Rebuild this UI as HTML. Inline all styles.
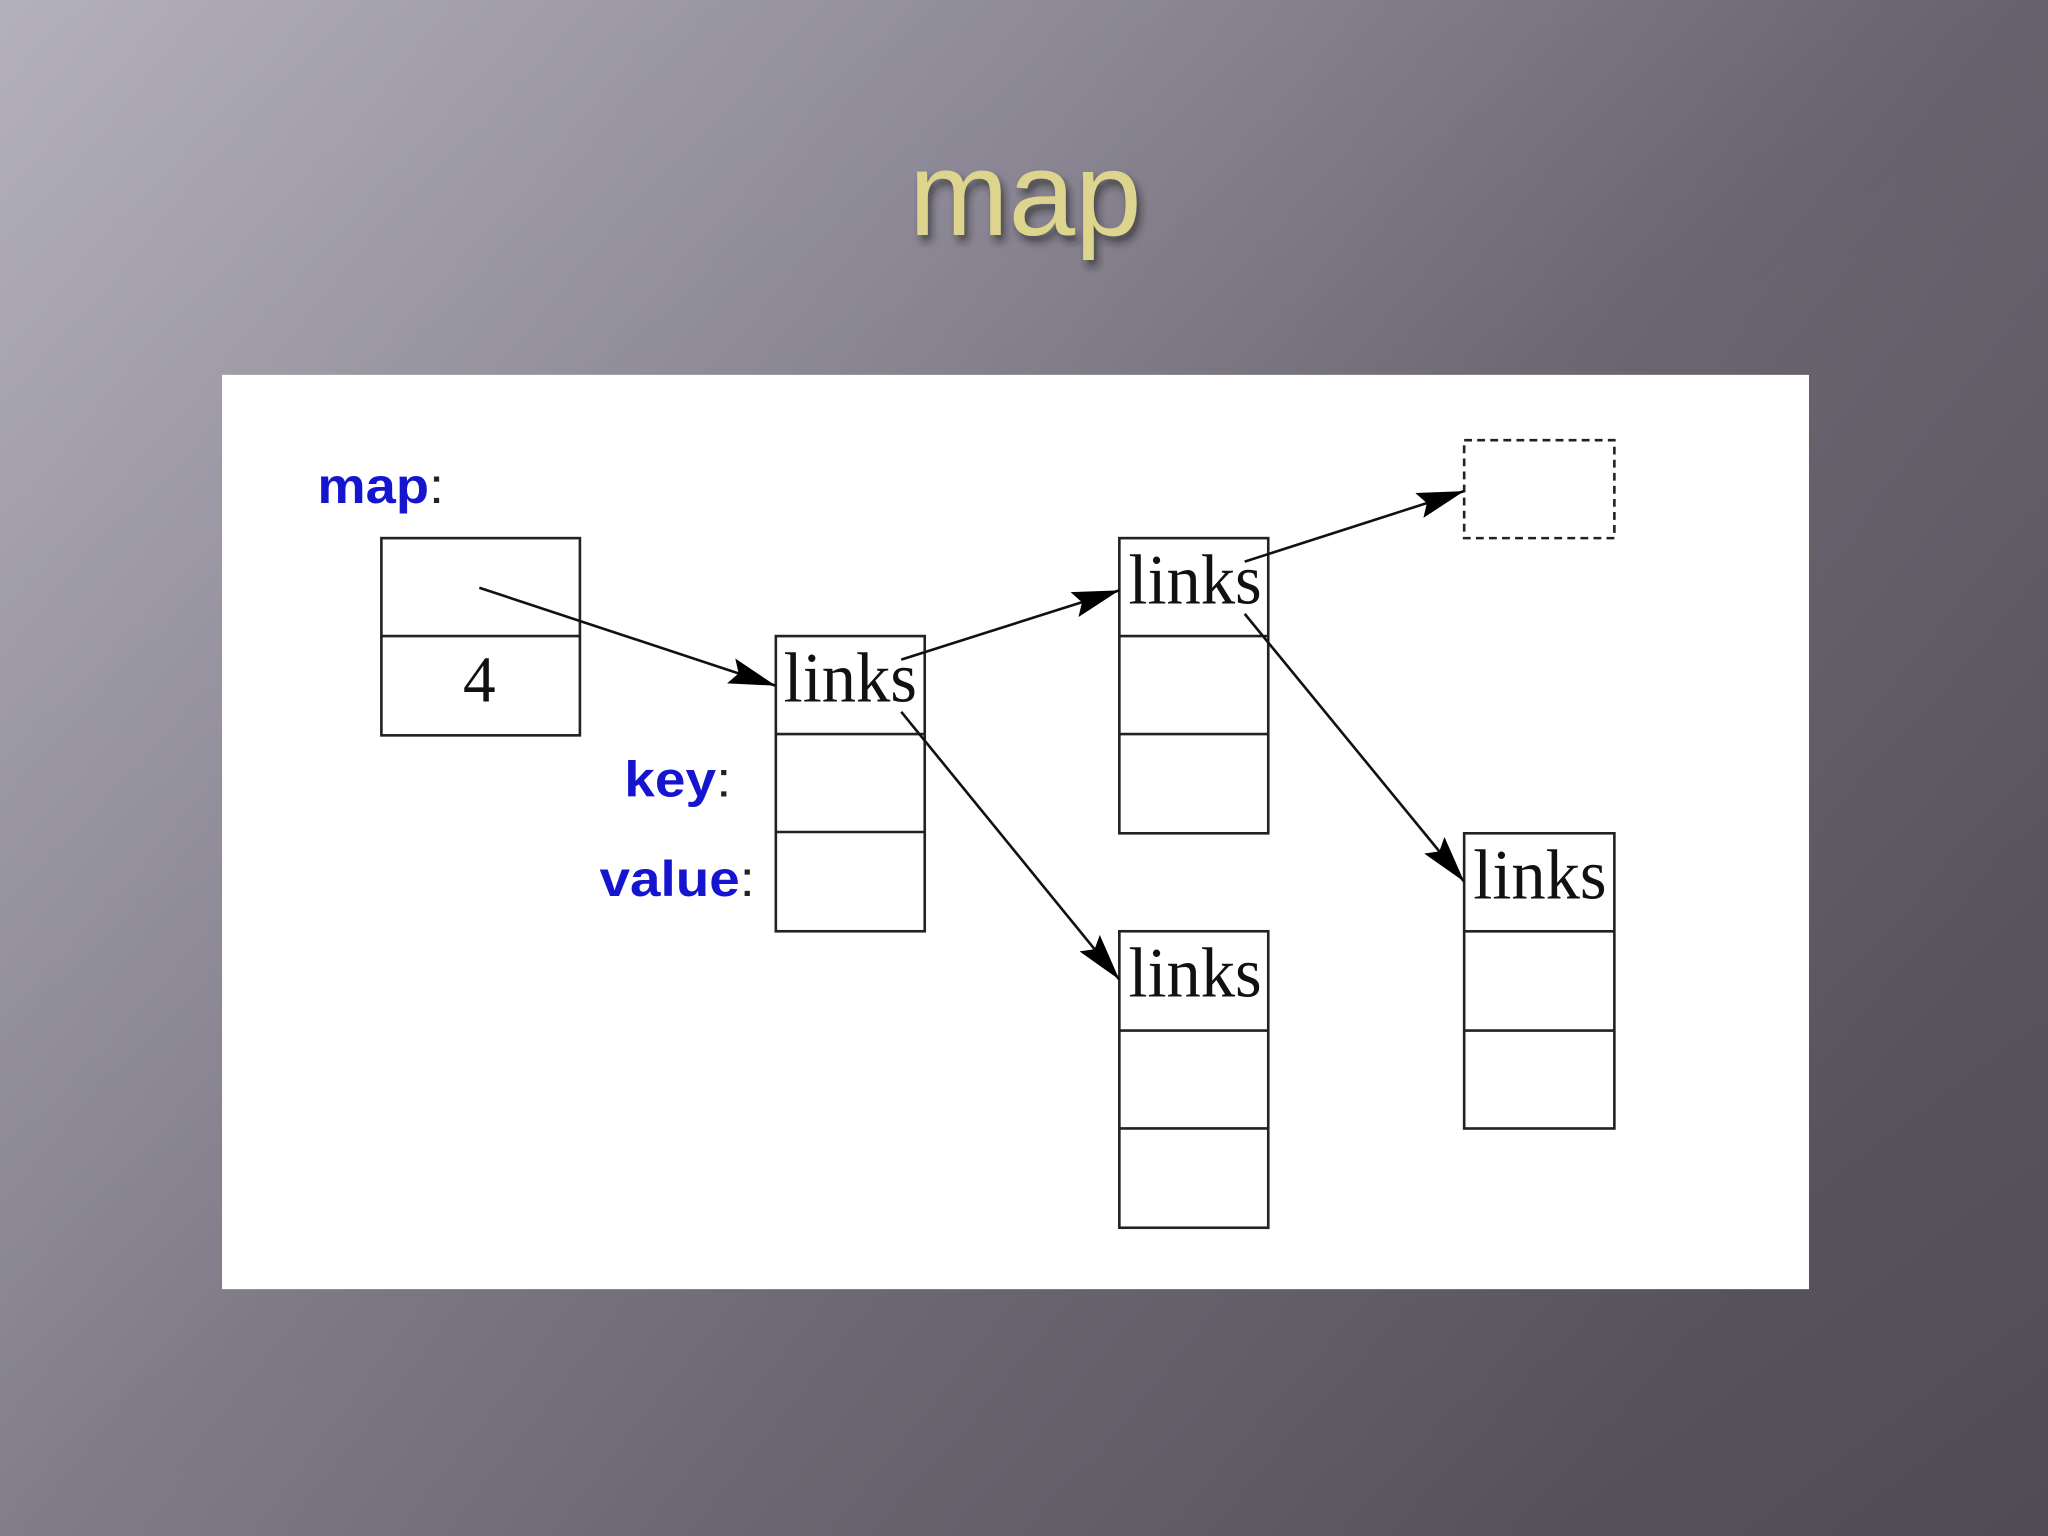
<!DOCTYPE html>
<html><head><meta charset="utf-8"><style>
html,body{margin:0;padding:0;width:2048px;height:1536px;overflow:hidden;}
svg{display:block}
</style></head><body>
<svg width="2048" height="1536" viewBox="0 0 1568 1176" preserveAspectRatio="none" xmlns="http://www.w3.org/2000/svg">
<defs>
<linearGradient id="bg" x1="0" y1="0" x2="1" y2="0.6">
<stop offset="0" stop-color="#a9a6b2"/>
<stop offset="0.35" stop-color="#8a8694"/>
<stop offset="0.7" stop-color="#6a6470"/>
<stop offset="1" stop-color="#57525b"/>
</linearGradient>
<linearGradient id="streak" x1="0" y1="0" x2="1" y2="1">
<stop offset="0" stop-color="#fff" stop-opacity="0.12"/>
<stop offset="0.5" stop-color="#fff" stop-opacity="0"/>
<stop offset="1" stop-color="#000" stop-opacity="0.08"/>
</linearGradient>
<marker id="ah" markerWidth="36" markerHeight="20" refX="36" refY="10" orient="auto" markerUnits="userSpaceOnUse" viewBox="0 0 36 20">
<path d="M0,0 L36,10 L0,20 L6,10 z" fill="#000"/>
</marker>
<filter id="sh"><feDropShadow dx="3" dy="5" stdDeviation="3" flood-color="#222" flood-opacity="0.6"/></filter>
</defs>
<rect width="1568" height="1176" fill="url(#bg)"/>
<rect width="1568" height="1176" fill="url(#streak)"/>
<text x="785" y="180" text-anchor="middle" font-family="Liberation Sans, sans-serif" font-size="92" fill="#ddd58e" filter="url(#sh)" textLength="178" lengthAdjust="spacingAndGlyphs">map</text>
<rect x="170" y="287" width="1215" height="700" fill="#fff"/>
<g fill="none" stroke="#222" stroke-width="2">
<rect x="292" y="412" width="152" height="151"/><line x1="292" y1="487" x2="444" y2="487"/>
<rect x="594" y="487" width="114" height="226"/><line x1="594" y1="562" x2="708" y2="562"/><line x1="594" y1="637" x2="708" y2="637"/>
<rect x="857" y="412" width="114" height="226"/><line x1="857" y1="487" x2="971" y2="487"/><line x1="857" y1="562" x2="971" y2="562"/>
<rect x="857" y="713" width="114" height="227"/><line x1="857" y1="789" x2="971" y2="789"/><line x1="857" y1="864" x2="971" y2="864"/>
<rect x="1121" y="638" width="115" height="226"/><line x1="1121" y1="713" x2="1236" y2="713"/><line x1="1121" y1="789" x2="1236" y2="789"/>
<rect x="1121" y="337" width="115" height="75" stroke-dasharray="6,4"/>
</g>
<g font-family="Liberation Serif, serif" font-size="54" fill="#111">
<text x="367" y="537" text-anchor="middle" font-size="50">4</text>
<text x="600" y="537" textLength="102" lengthAdjust="spacingAndGlyphs">links</text>
<text x="864" y="462" textLength="102" lengthAdjust="spacingAndGlyphs">links</text>
<text x="864" y="763" textLength="102" lengthAdjust="spacingAndGlyphs">links</text>
<text x="1128" y="688" textLength="102" lengthAdjust="spacingAndGlyphs">links</text>
</g>
<g font-family="Liberation Sans, sans-serif" font-size="38" font-weight="bold" fill="#1515d0">
<text x="243" y="385" textLength="97" lengthAdjust="spacingAndGlyphs">map<tspan fill="#222" font-weight="normal">:</tspan></text>
<text x="478" y="610" textLength="82" lengthAdjust="spacingAndGlyphs">key<tspan fill="#222" font-weight="normal">:</tspan></text>
<text x="459" y="686" textLength="119" lengthAdjust="spacingAndGlyphs">value<tspan fill="#222" font-weight="normal">:</tspan></text>
</g>
<g stroke="#111" stroke-width="2" marker-end="url(#ah)">
<line x1="367" y1="450" x2="594" y2="525"/>
<line x1="690" y1="505" x2="857" y2="452"/>
<line x1="953" y1="430" x2="1121" y2="376"/>
<line x1="690" y1="545" x2="857" y2="750"/>
<line x1="953" y1="470" x2="1121" y2="675"/>
</g>
</svg>
</body></html>
